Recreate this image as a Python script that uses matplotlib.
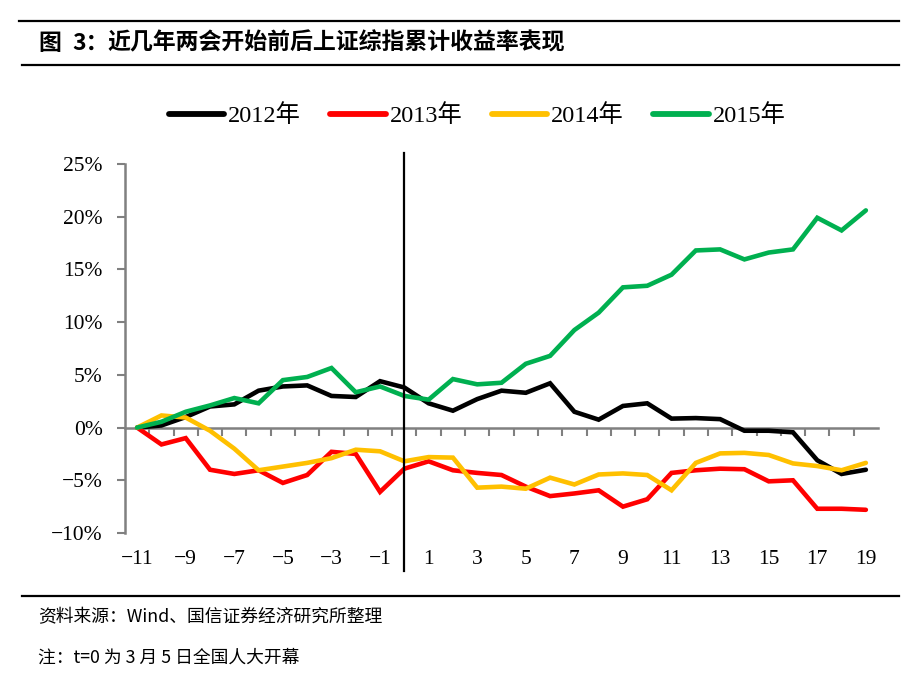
import matplotlib
matplotlib.use('Agg')
import matplotlib.pyplot as plt
import matplotlib.transforms as mtransforms
from matplotlib.lines import Line2D

SERIF = ['Liberation Serif', 'Noto Sans CJK SC']
SANS = ['Noto Sans CJK SC', 'DejaVu Sans']

# t relative to NPC opening day (t=0 is March 5)
t = list(range(-11, 20))

r2012 = [0, 0.2, 1.0, 2.0, 2.2, 3.5, 3.9, 4.0, 3.0, 2.9, 4.4, 3.8,
         2.3, 1.6, 2.7, 3.5, 3.3, 4.2, 1.5, 0.75, 2.05, 2.3, 0.85, 0.9,
         0.8, -0.3, -0.3, -0.45, -3.1, -4.4, -4.0]
r2013 = [0, -1.6, -1.0, -4.0, -4.4, -4.05, -5.25, -4.5, -2.3, -2.5, -6.1, -3.9,
         -3.2, -4.05, -4.3, -4.5, -5.6, -6.5, -6.25, -5.95, -7.5, -6.8, -4.3, -4.05,
         -3.9, -3.95, -5.1, -5.0, -7.7, -7.7, -7.8]
r2014 = [0, 1.15, 0.95, -0.3, -2.0, -4.05, -3.7, -3.35, -2.9, -2.1, -2.25, -3.2,
         -2.8, -2.85, -5.7, -5.6, -5.8, -4.75, -5.4, -4.45, -4.35, -4.5, -5.95, -3.35,
         -2.45, -2.4, -2.6, -3.4, -3.65, -4.05, -3.35]
r2015 = [0, 0.55, 1.5, 2.1, 2.8, 2.3, 4.5, 4.8, 5.65, 3.35, 3.9, 3.0,
         2.65, 4.6, 4.1, 4.25, 6.05, 6.8, 9.25, 10.9, 13.3, 13.45, 14.5, 16.8,
         16.9, 15.95, 16.6, 16.9, 19.9, 18.7, 20.6]

series_names = ['2012年', '2013年', '2014年', '2015年']
series_values = [r2012, r2013, r2014, r2015]
series_colors = ['#000000', '#FF0000', '#FFC000', '#00B050']

y_ticks = [-10, -5, 0, 5, 10, 15, 20, 25]
x_labels = [v for v in t if v % 2 != 0]

W, H = 917, 695
fig = plt.figure(figsize=(W / 100, H / 100), dpi=100)
fig.patch.set_facecolor('white')
ax = fig.add_axes([125 / W, 1 - 533 / H, (878 - 125) / W, (533 - 164) / H])

for vals, color, name in zip(series_values, series_colors, series_names):
    ax.plot(t, vals, color=color, lw=3.3, label=name, solid_joinstyle='miter',
            solid_capstyle='round', zorder=3)

# t=0 marker line, runs past the plot area
ax.axvline(0, ymin=-0.103, ymax=1.03, color='black', lw=1.6, clip_on=False, zorder=4)

ax.set_xlim(-11.5, 19.5)
ax.set_ylim(-10, 25)

for s in ['top', 'right']:
    ax.spines[s].set_visible(False)
ax.spines['left'].set_color('#808080')
ax.spines['left'].set_linewidth(1.8)
ax.spines['bottom'].set_position(('data', 0))
ax.spines['bottom'].set_color('#808080')
ax.spines['bottom'].set_linewidth(1.8)

ax.set_yticks(y_ticks)
ax.set_yticklabels([f'{v}%'.replace('-', '\u2212') for v in y_ticks], family=SERIF, fontsize=15.5)
ax.tick_params(axis='y', direction='out', length=6, width=1.5, color='#808080', pad=10)

# tick marks on category boundaries, labels on odd days
ax.set_xticks([v + 0.5 for v in t[:-1]], minor=True)
ax.set_xticks(x_labels)
ax.set_xticklabels([str(v).replace('-', '\u2212') for v in x_labels], family=SERIF, fontsize=15.5)
ax.tick_params(axis='x', which='minor', direction='out', length=6, width=1.5, color='#808080')
ax.tick_params(axis='x', which='major', length=0, pad=0)
lab_tf = (mtransforms.blended_transform_factory(ax.transData, ax.transAxes)
          + mtransforms.ScaledTranslation(0, -27 / 100, fig.dpi_scale_trans))
for lab in ax.xaxis.get_majorticklabels():
    lab.set_transform(lab_tf)
    lab.set_va('center')

handles = [Line2D([0], [0], color=c, lw=4.2, solid_capstyle='round') for c in series_colors]
fig.legend(handles, series_names, loc='center', bbox_to_anchor=(477 / W, 1 - 116 / H),
           ncol=4, frameon=False, handlelength=2.3, handletextpad=0.15,
           columnspacing=1.2, borderpad=0, prop={'family': SERIF, 'size': 17.5})

# header / footer rules and texts
for yy, x0 in [(21, 19), (65, 22), (596, 22)]:
    fig.add_artist(Line2D([x0 / W, 899 / W], [1 - yy / H, 1 - yy / H], color='black', lw=1.6))
title_kw = dict(family=SANS, fontsize=16.5, fontweight='bold', va='center', ha='left')
fig.text(38 / W, 1 - 43 / H, '图', **title_kw)
fig.text(72 / W, 1 - 43 / H, '3：', **title_kw)
fig.text(107 / W, 1 - 43 / H, '近几年两会开始前后上证综指累计收益率表现', **title_kw)
fig.text(38 / W, 1 - 617 / H, '资料来源：Wind、国信证券经济研究所整理',
         family=SANS, fontsize=12.8, va='center', ha='left')
fig.text(38 / W, 1 - 658 / H, '注：t=0 为 3 月 5 日全国人大开幕',
         family=SANS, fontsize=12.8, va='center', ha='left')

fig.savefig('out.png', dpi=100, facecolor='white')
